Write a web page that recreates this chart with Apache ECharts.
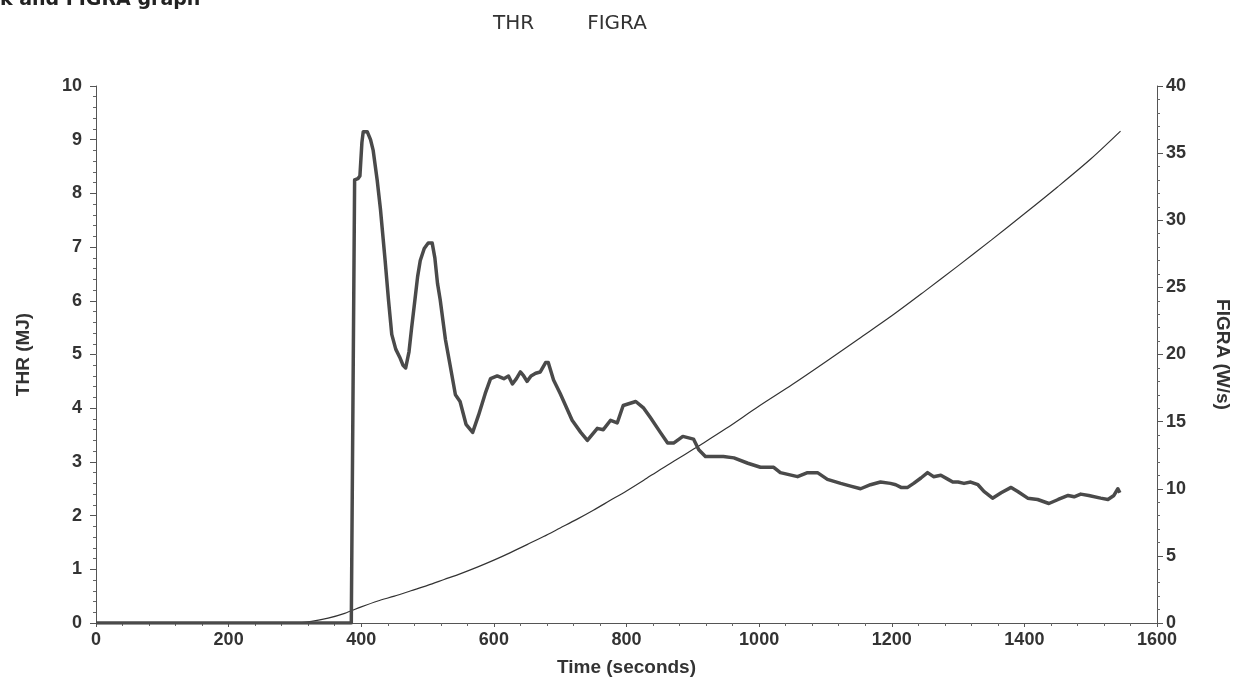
<!DOCTYPE html>
<html>
<head>
<meta charset="utf-8">
<script src="https://cdn.jsdelivr.net/npm/echarts@6/dist/echarts.min.js"></script>
<style>
  html, body { margin: 0; padding: 0; background: #fff; }
  #chart { width: 1242px; height: 685px; }
</style>
</head>
<body>
<div id="chart"></div>
<script>
// Time axis ticks (seconds)
const timeTicks = [0, 200, 400, 600, 800, 1000, 1200, 1400, 1600];

// THR: total heat release (MJ), left axis
const thrTime = [0, 300, 325, 350, 375, 400, 425, 450, 475, 500, 525, 550, 575, 600, 625, 650, 675, 700,
  725, 750, 775, 800, 826, 850, 875, 900, 912, 950, 1000, 1050, 1100, 1150, 1200, 1250, 1300, 1350,
  1400, 1450, 1500, 1545];
const thrValue = [0, 0, 0.03, 0.09, 0.18, 0.30, 0.41, 0.50, 0.60, 0.70, 0.81, 0.92, 1.04, 1.17, 1.31, 1.46, 1.61, 1.77,
  1.93, 2.10, 2.28, 2.46, 2.66, 2.85, 3.04, 3.23, 3.32, 3.62, 4.04, 4.44, 4.86, 5.29, 5.72, 6.18, 6.65, 7.13,
  7.62, 8.12, 8.64, 9.16];

// FIGRA (W/s), right axis
const figraTime = [0, 385, 388, 390, 395, 398, 401, 403, 409, 414, 418, 424, 429, 436, 441, 446, 452, 458, 463, 467,
  472, 476, 481, 485, 489, 495, 501, 507, 511, 515, 519, 527, 534, 542, 549, 558, 568, 577, 587, 595,
  605, 615, 622, 628, 634, 640, 645, 650, 656, 663, 670, 678, 682, 690, 700, 718, 731, 741, 756, 765,
  776, 786, 795, 814, 826, 836, 851, 862, 871, 885, 901, 909, 919, 946, 962, 983, 1002, 1022, 1032, 1058,
  1073, 1088, 1103, 1123, 1138, 1153, 1168, 1183, 1198, 1206, 1214, 1224, 1233, 1244, 1254, 1263, 1274, 1285,
  1292, 1300, 1309, 1319, 1330, 1339, 1352, 1365, 1380, 1390, 1405, 1420, 1437, 1451, 1466, 1475, 1485, 1497,
  1515, 1526, 1535, 1541, 1544];
const figraValue = [0, 0, 0, 33.0, 33.1, 33.3, 35.8, 36.6, 36.6, 36.0, 35.2, 33.0, 30.8, 27.0, 24.1, 21.5, 20.4, 19.8, 19.2, 19.0,
  20.2, 22.0, 24.1, 25.8, 27.0, 27.9, 28.3, 28.3, 27.2, 25.3, 24.1, 21.1, 19.2, 17.0, 16.5, 14.8, 14.2, 15.5, 17.1, 18.2,
  18.4, 18.2, 18.4, 17.8, 18.2, 18.7, 18.4, 18.0, 18.4, 18.6, 18.7, 19.4, 19.4, 18.1, 17.1, 15.1, 14.2, 13.6, 14.5, 14.4,
  15.1, 14.9, 16.2, 16.5, 16.0, 15.3, 14.2, 13.4, 13.4, 13.9, 13.7, 12.9, 12.4, 12.4, 12.3, 11.9, 11.6, 11.6, 11.2, 10.9,
  11.2, 11.2, 10.7, 10.4, 10.2, 10.0, 10.3, 10.5, 10.4, 10.3, 10.1, 10.1, 10.4, 10.8, 11.2, 10.9, 11.0, 10.7,
  10.5, 10.5, 10.4, 10.5, 10.3, 9.8, 9.3, 9.7, 10.1, 9.8, 9.3, 9.2, 8.9, 9.2, 9.5, 9.4, 9.6, 9.5,
  9.3, 9.2, 9.5, 10.0, 9.7];

const thrData = thrTime.map((t, i) => [t, thrValue[i]]);
const figraData = figraTime.map((t, i) => [t, figraValue[i]]);

const labelFont = { fontFamily: 'Liberation Sans, Arial, sans-serif', fontWeight: 'bold', fontSize: 18, color: '#333' };
const nameFont = { fontFamily: 'Liberation Sans, Arial, sans-serif', fontWeight: 'bold', fontSize: 19, color: '#333' };
const axisLineStyle = { lineStyle: { color: '#555', width: 1 } };

const chart = echarts.init(document.getElementById('chart'), null, { renderer: 'canvas' });
chart.setOption({
  animation: false,
  backgroundColor: '#fff',
  graphic: [{
    type: 'text',
    left: 0,
    top: -9,
    style: {
      text: 'k and FIGRA graph',
      font: 'bold 19px "DejaVu Sans", Verdana, sans-serif',
      fill: '#222'
    }
  }],
  legend: {
    top: 9,
    left: 483,
    itemWidth: 0,
    itemHeight: 0,
    itemGap: 48,
    icon: 'rect',
    textStyle: { fontFamily: 'DejaVu Sans, Tahoma, sans-serif', fontSize: 20, color: '#333' },
    data: ['THR', 'FIGRA']
  },
  grid: { left: 96, right: 85, top: 86, bottom: 62 },
  xAxis: {
    type: 'value',
    min: 0, max: 1600, interval: 200,
    name: 'Time (seconds)',
    nameLocation: 'middle',
    nameGap: 35,
    nameTextStyle: nameFont,
    axisLine: axisLineStyle,
    axisTick: { length: 4, lineStyle: { color: '#555' } },
    minorTick: { show: true, splitNumber: 5, length: 3, lineStyle: { color: '#666' } },
    axisLabel: Object.assign({ margin: 8 }, labelFont, {
      formatter: v => timeTicks.includes(v) ? String(v) : ''
    }),
    splitLine: { show: false }
  },
  yAxis: [{
    type: 'value',
    min: 0, max: 10, interval: 1,
    name: 'THR (MJ)',
    nameLocation: 'middle',
    nameGap: 63,
    nameRotate: 90,
    nameTextStyle: nameFont,
    axisLine: Object.assign({ show: true }, axisLineStyle),
    axisTick: { show: true, length: 6, lineStyle: { color: '#555' } },
    minorTick: { show: true, splitNumber: 5, length: 3, lineStyle: { color: '#666' } },
    axisLabel: Object.assign({ margin: 14 }, labelFont),
    splitLine: { show: false }
  }, {
    type: 'value',
    position: 'right',
    min: 0, max: 40, interval: 5,
    name: 'FIGRA (W/s)',
    nameLocation: 'middle',
    nameGap: 56,
    nameRotate: -90,
    nameTextStyle: nameFont,
    axisLine: Object.assign({ show: true }, axisLineStyle),
    axisTick: { show: true, length: 6, lineStyle: { color: '#555' } },
    minorTick: { show: true, splitNumber: 5, length: 3, lineStyle: { color: '#666' } },
    axisLabel: Object.assign({ margin: 9 }, labelFont),
    splitLine: { show: false }
  }],
  series: [{
    name: 'THR',
    type: 'line',
    yAxisIndex: 0,
    data: thrData,
    smooth: 0.3,
    showSymbol: false,
    lineStyle: { color: '#333', width: 1.2 },
    itemStyle: { color: '#333' }
  }, {
    name: 'FIGRA',
    type: 'line',
    yAxisIndex: 1,
    data: figraData,
    showSymbol: false,
    lineStyle: { color: '#4a4a4a', width: 3.5, join: 'round' },
    itemStyle: { color: '#4a4a4a' }
  }]
});
</script>
</body>
</html>
